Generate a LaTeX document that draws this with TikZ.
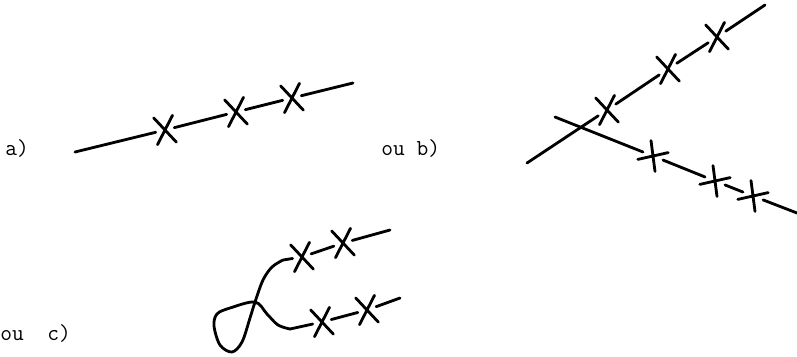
\documentclass[tikz,border=0pt]{standalone}
\usepackage{tikz}
\usetikzlibrary{shapes.misc}

\begin{document}
\begin{tikzpicture}[x=0.02cm, y=-0.02cm]
\tikzstyle{strand} = [line width=1.6pt, line cap=round, line join=round]
\tikzstyle{xstroke} = [cross out, draw, line width=1.6pt,
    line cap=round, inner sep=0pt, outer sep=0.08cm]
\tikzstyle{crossmark} = [xstroke,
    minimum width=0.22cm, minimum height=0.38cm, rotate=8]
\tikzstyle{flatcross} = [xstroke,
    minimum width=0.3cm, minimum height=0.26cm, rotate=55]
\tikzstyle{panellabel} = [anchor=base west, inner sep=0pt,
    font=\fontsize{13}{15}\selectfont\ttfamily]

\useasboundingbox (0,0) rectangle (797,356);

% --- a) one straight line ---
\node (labela) [panellabel] at (5,155) {a)};
\coordinate (a0) at (75,152);
\node (a1) [crossmark] at (165,130) {};
\node (a2) [crossmark] at (236,112) {};
\node (a3) [crossmark] at (292,98) {};
\coordinate (a4) at (353,83);
\draw [strand] (a0) -- (a1) -- (a2) -- (a3) -- (a4);

% --- b) two crossing lines ---
\node (labelb) [panellabel] at (381,155) {ou b)};
\coordinate (b0) at (527,163);
\node (b1) [crossmark] at (607,110) {};
\node (b2) [crossmark] at (668,69) {};
\node (b3) [crossmark] at (717,37) {};
\coordinate (b4) at (765,5);
\draw [strand] (b0) -- (b1) -- (b2) -- (b3) -- (b4);

\coordinate (bs) at (555,117);
\node (b5) [flatcross] at (653,156) {};
\node (b6) [flatcross] at (715,181) {};
\node (b7) [flatcross] at (753,196) {};
\coordinate (be) at (797,213);
\draw [strand] (bs) -- (b5) -- (b6) -- (b7) -- (be);

% --- c) loop with two branches ---
\node (labelc) [panellabel] at (0,340) {ou~~c)};
\node (c1) [crossmark] at (302,257) {};
\node (c2) [crossmark] at (343,243) {};
\coordinate (c3) at (390,230);
\node (c4) [crossmark] at (322,322) {};
\node (c5) [crossmark] at (367,310) {};
\coordinate (c6) at (400,298);
\coordinate (cu) at (283,260);
\coordinate (cx) at (255,302);
\coordinate (cl) at (290,329);

\draw [strand] (c3) -- (c2) -- (c1) -- (cu);
\draw [strand] plot[smooth, tension=0.55] coordinates {(cu) (272,267)
    (263,280) (cx) (250,318) (242,342) (232,352) (220,345) (214,326)
    (217,314) (230,308) (cx) (267,314) (278,325) (cl)};
\draw [strand] (cl) -- (c4) -- (c5) -- (c6);
\end{tikzpicture}
\end{document}
